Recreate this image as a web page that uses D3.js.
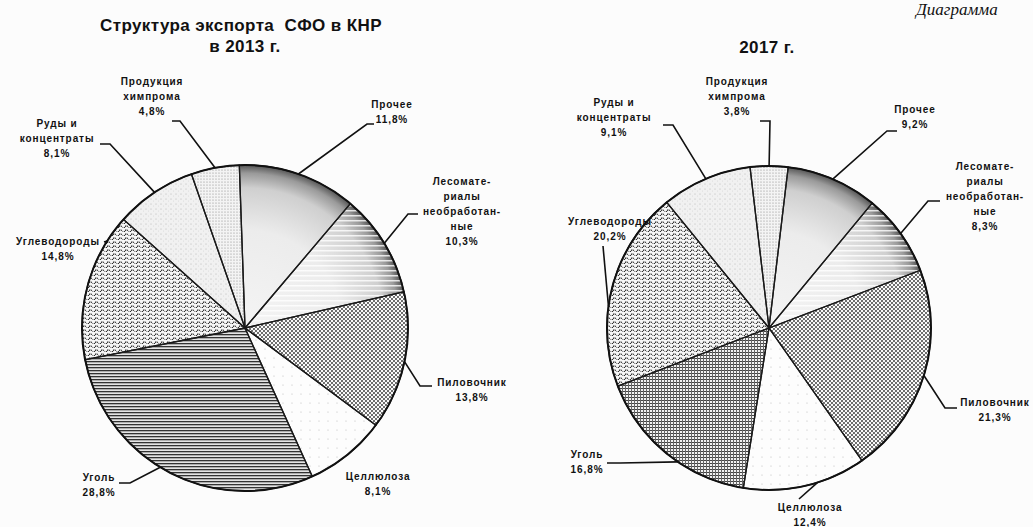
<!DOCTYPE html>
<html>
<head>
<meta charset="utf-8">
<script src="https://cdn.jsdelivr.net/npm/d3@7/dist/d3.min.js"></script>
<style>
  body { margin: 0; background: #fff; }
  svg text { font-family: "Liberation Sans", Arial, sans-serif; fill: #111; }
</style>
</head>
<body>
<svg id="chart" width="1033" height="527"></svg>
<script>
// categories and shares (%)
const categories = ['Прочее', 'Лесоматериалы необработанные', 'Пиловочник', 'Целлюлоза',
  'Уголь', 'Углеводороды', 'Руды и концентраты', 'Продукция химпрома'];
const values2013 = [11.8, 10.3, 13.8, 8.1, 28.8, 14.8, 8.1, 4.8];
const values2017 = [9.2, 8.3, 21.3, 12.4, 16.8, 20.2, 9.1, 3.8];
const labelLines = [['Прочее'], ['Лесомате-', 'риалы', 'необработан-', 'ные'], ['Пиловочник'],
  ['Целлюлоза'], ['Уголь'], ['Углеводороды'], ['Руды и', 'концентраты'], ['Продукция', 'химпрома']];
const title2013 = ['Структура экспорта\u00a0 СФО в КНР', 'в 2013 г.'];
const title2017 = ['2017 г.'];

// label placement (text centre, leader attach fraction within slice, leader points)
const layout2013 = [
  { x: 392, y: 108, t: 0.5, pts: [[367, 124], [374, 124]] },
  { x: 462, y: 185, t: 0.5, pts: [[408, 214], [418, 214]] },
  { x: 472, y: 386, t: 0.5, pts: [[420, 386], [432, 386]] },
  { x: 378, y: 480, t: 0.5, pts: null },
  { x: 99, y: 481, t: 0.54, pts: [[130, 483], [119, 483]] },
  { x: 58, y: 245, t: 0.82, pts: [[104, 242]] },
  { x: 57, y: 127, t: 0.5, pts: [[110, 144], [100, 144]] },
  { x: 152, y: 85, t: 0.5, pts: [[180, 121], [172, 121]] }
];
const layout2017 = [
  { x: 915, y: 113, t: 0.5, pts: [[887, 131], [897, 131]] },
  { x: 985, y: 170, t: 0.5, pts: [[928, 201], [940, 201]] },
  { x: 995, y: 406, t: 0.5, pts: [[945, 408], [957, 408]] },
  { x: 810, y: 511, t: 0.4, pts: [[799, 499]] },
  { x: 587, y: 458, t: 0.42, pts: [[620, 463], [607, 463]] },
  { x: 610, y: 225, t: 0.4, pts: [[603, 246]] },
  { x: 614, y: 106, t: 0.5, pts: [[673, 125], [663, 125]] },
  { x: 737, y: 85, t: 0.5, pts: [[770, 121], [760, 121]] }
];

const svg = d3.select('#chart');
svg.append('rect').attr('width', 1033).attr('height', 527).attr('fill', '#fcfcfc');
const defs = svg.append('defs');

function pattern(id, w, h, bg, build) {
  const p = defs.append('pattern').attr('id', id).attr('width', w).attr('height', h)
    .attr('patternUnits', 'userSpaceOnUse');
  if (bg) p.append('rect').attr('width', w).attr('height', h).attr('fill', bg);
  build(p);
}
pattern('dots', 4, 4, '#fafafa', p => {
  p.append('circle').attr('cx', 1).attr('cy', 1).attr('r', 0.95).attr('fill', '#333');
  p.append('circle').attr('cx', 3).attr('cy', 3).attr('r', 0.95).attr('fill', '#333');
});
pattern('sparse', 9, 9, '#fdfdfd', p => {
  p.append('circle').attr('cx', 2).attr('cy', 3).attr('r', 0.6).attr('fill', '#bbb');
});
pattern('speck', 5, 5, '#f1f1f1', p => {
  p.append('circle').attr('cx', 1).attr('cy', 1).attr('r', 0.5).attr('fill', '#aaa');
  p.append('circle').attr('cx', 3.5).attr('cy', 3).attr('r', 0.4).attr('fill', '#c4c4c4');
});
pattern('speck2', 3, 3, '#f4f4f4', p => {
  p.append('circle').attr('cx', 1).attr('cy', 1).attr('r', 0.6).attr('fill', '#888');
});
pattern('hlines', 3, 3, '#e4e4e4', p => {
  p.append('rect').attr('width', 3).attr('height', 1.3).attr('fill', '#333');
});
pattern('hlinesWhite', 6, 5, null, p => {
  p.append('rect').attr('y', 2).attr('width', 6).attr('height', 1.5).attr('fill', '#fff').attr('opacity', 0.8);
});
pattern('grid', 3, 3, '#f2f2f2', p => {
  p.append('rect').attr('width', 3).attr('height', 1).attr('fill', '#444');
  p.append('rect').attr('width', 1).attr('height', 3).attr('fill', '#666');
});
pattern('wave', 6, 4, '#f6f6f6', p => {
  p.append('path').attr('d', 'M0,3 Q1.5,0.5 3,3 T6,3').attr('fill', 'none')
    .attr('stroke', '#222').attr('stroke-width', 1.1).attr('stroke-dasharray', '1.5,0.7');
});

// gradient lives in the pie group's own coordinates (centre at 0,0)
function radial(id, r) {
  const g = defs.append('radialGradient').attr('id', id).attr('gradientUnits', 'userSpaceOnUse')
    .attr('cx', 0).attr('cy', 0).attr('r', r);
  [[0, '#f4f4f4'], [0.6, '#ececec'], [0.86, '#cfcfcf'], [0.95, '#9a9a9a'], [1, '#555']].forEach(s =>
    g.append('stop').attr('offset', s[0]).attr('stop-color', s[1]));
}

const fills2013 = [['g13'], ['g13', 'hlinesWhite'], ['dots'], ['sparse'], ['hlines'], ['wave'], ['speck'], ['speck2']];
const fills2017 = [['g17'], ['g17', 'hlinesWhite'], ['dots'], ['sparse'], ['grid'], ['wave'], ['speck'], ['speck2']];

function drawPie(cfg) {
  const { values, cx, cy, r, start, fills, layout, title, titleX, titleY } = cfg;
  radial(cfg.grad, r);
  const s0 = start * Math.PI / 180;
  const pie = d3.pie().sort(null).startAngle(s0).endAngle(s0 + 2 * Math.PI);
  const arcs = pie(values);
  const arc = d3.arc().innerRadius(0).outerRadius(r);
  const g = svg.append('g').attr('transform', `translate(${cx},${cy})`);
  arcs.forEach((a, i) => {
    fills[i].forEach(f => g.append('path').attr('d', arc(a)).attr('fill', `url(#${f})`));
  });
  g.selectAll('path.edge').data(arcs).join('path').attr('class', 'edge')
    .attr('d', arc).attr('fill', 'none').attr('stroke', '#1a1a1a').attr('stroke-width', 1.3);
  g.append('circle').attr('r', r).attr('fill', 'none').attr('stroke', '#111').attr('stroke-width', 2);

  // leaders and labels
  arcs.forEach((a, i) => {
    const L = layout[i];
    if (L.pts) {
      const ang = a.startAngle + (a.endAngle - a.startAngle) * L.t;
      const p0 = [cx + r * Math.sin(ang), cy - r * Math.cos(ang)];
      svg.append('path').attr('d', d3.line()([p0, ...L.pts]))
        .attr('fill', 'none').attr('stroke', '#111').attr('stroke-width', 1.6);
    }
    const lines = labelLines[i].concat([String(values[i].toFixed(1)).replace('.', ',') + '%']);
    const t = svg.append('text').attr('text-anchor', 'middle')
      .attr('font-size', 10).attr('font-weight', 'bold').attr('letter-spacing', 0.9);
    lines.forEach((ln, k) => t.append('tspan').attr('x', L.x).attr('y', L.y + k * 15).text(ln));
  });

  title.forEach((ln, k) => svg.append('text').attr('x', titleX[k]).attr('y', titleY + k * 21)
    .attr('text-anchor', 'middle').attr('font-size', 17).attr('font-weight', 'bold')
    .attr('letter-spacing', 0.4).text(ln));
}

drawPie({ values: values2013, cx: 245, cy: 328, r: 163, start: -2, fills: fills2013,
  layout: layout2013, grad: 'g13', title: title2013, titleX: [241, 245], titleY: 31 });
drawPie({ values: values2017, cx: 769, cy: 328, r: 162, start: 6.8, fills: fills2017,
  layout: layout2017, grad: 'g17', title: title2017, titleX: [767], titleY: 53 });

svg.append('text').attr('x', 916).attr('y', 15).attr('font-size', 17).attr('font-style', 'italic')
  .style('font-family', '"Liberation Serif", serif').text('Диаграмма');
</script>
</body>
</html>
